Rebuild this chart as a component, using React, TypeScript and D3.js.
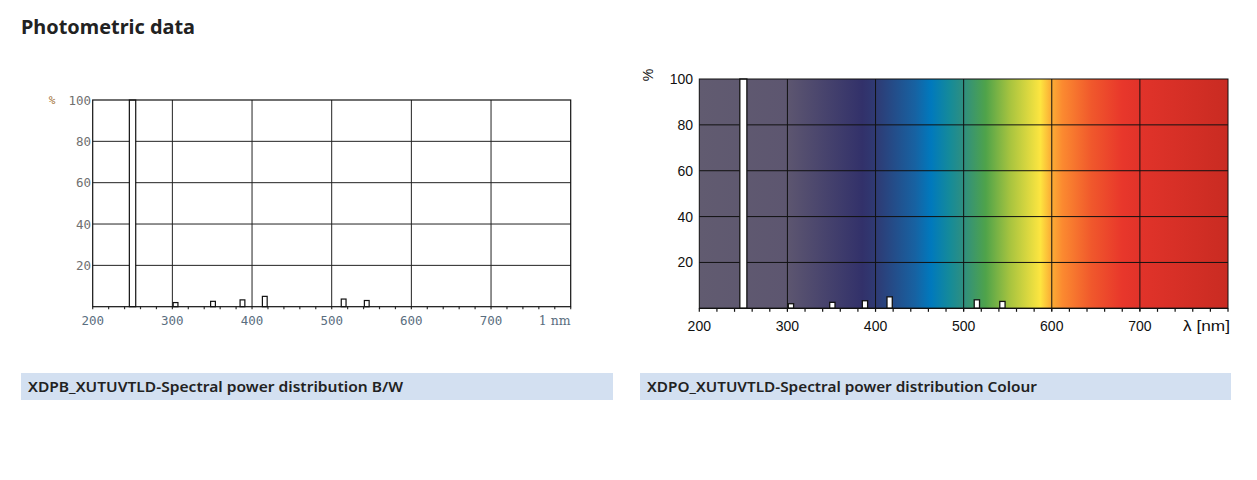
import React from "react";
import * as d3 from "d3";

// ---- data ----
const wavelengthTicks = [200, 300, 400, 500, 600, 700];
const minorTicks = d3.range(200, 801, 20);
const percentTicks = [20, 40, 60, 80, 100];
// spectral lines: start nm, end nm, relative power %
const lineStart = [246, 301, 348, 385, 413, 512, 541];
const lineEnd = [254, 307, 354, 391, 419, 518, 547];
const lineValue = [100, 2, 2.6, 3.3, 5, 3.7, 3];
// colour background stops (nm, colour)
const stopNm = [200, 300, 385, 400, 445, 463, 485, 500, 525, 553, 587, 598, 612, 645, 680, 700, 800];
const stopColor = ["#615b70", "#5d5670", "#32316a", "#2f3a73", "#1762a2", "#0079bd", "#168b98", "#2f8f80", "#4fa34a", "#a8c43f", "#fde540", "#fbb236", "#fb8a30", "#f0582c", "#e8372b", "#e1332a", "#c92b22"];

const lines = lineStart.map((s, i) => ({ s, e: lineEnd[i], v: lineValue[i] }));

export default function App() {
  const xB = d3.scaleLinear().domain([200, 800]).range([92.7, 570.7]);
  const yB = d3.scaleLinear().domain([0, 100]).range([306.7, 100]);
  const xC = d3.scaleLinear().domain([200, 800]).range([699.3, 1228]);
  const yC = d3.scaleLinear().domain([0, 100]).range([308.3, 79]);
  const mono = "'DejaVu Sans Mono', monospace";
  const sans = "'Liberation Sans', Arial, sans-serif";
  const bold = "'Noto Sans', 'Open Sans', sans-serif";

  return (
    <svg width={1257} height={480} style={{ position: "absolute", left: 0, top: 0, background: "#fff" }}>
      <defs>
        <linearGradient id="spec" gradientUnits="userSpaceOnUse" x1={xC(200)} x2={xC(800)} y1={0} y2={0}>
          {stopNm.map((n, i) => (
            <stop key={i} offset={(n - 200) / 600} stopColor={stopColor[i]} />
          ))}
        </linearGradient>
      </defs>

      <text x={21} y={34} fontFamily={bold} fontWeight={700} fontSize={20} fill="#222" textLength={174} lengthAdjust="spacingAndGlyphs">Photometric data</text>

      {/* ---- B/W chart ---- */}
      <g>
        {percentTicks.slice(0, 4).map((t) => (
          <line key={t} x1={xB(200)} x2={xB(800)} y1={yB(t)} y2={yB(t)} stroke="#222" strokeWidth={1} />
        ))}
        {wavelengthTicks.slice(1).map((t) => (
          <line key={t} x1={xB(t)} x2={xB(t)} y1={yB(0)} y2={yB(100)} stroke="#222" strokeWidth={1} />
        ))}
        {minorTicks.map((t) => (
          <line key={t} x1={xB(t)} x2={xB(t)} y1={yB(0)} y2={yB(0) + 2.5} stroke="#333" strokeWidth={1.2} />
        ))}
        {lines.map((l, i) => (
          <rect key={i} x={xB(l.s)} y={yB(l.v)} width={xB(l.e) - xB(l.s)} height={yB(0) - yB(l.v)} fill="#fff" stroke="#111" strokeWidth={1.2} />
        ))}
        <rect x={xB(200)} y={yB(100)} width={xB(800) - xB(200)} height={yB(0) - yB(100)} fill="none" stroke="#111" strokeWidth={1.2} />
        {percentTicks.map((t) => (
          <text key={t} x={91} y={yB(t) + 4.5} textAnchor="end" fontFamily={mono} fontSize={12.5} fill="#707070">{t}</text>
        ))}
        <text x={52} y={yB(100) + 4} textAnchor="middle" fontFamily={mono} fontSize={11} fill="#a07030">%</text>
        {wavelengthTicks.map((t) => (
          <text key={t} x={xB(t)} y={325} textAnchor="middle" fontFamily={mono} fontSize={12.5} fill="#5a6e80">{t}</text>
        ))}
        <text x={xB(800)} y={325} textAnchor="end" fontFamily="'DejaVu Serif', serif" fontSize={12.5} fill="#5a6e80">1 nm</text>
      </g>

      {/* ---- Colour chart ---- */}
      <g>
        <rect x={xC(200)} y={yC(100)} width={xC(800) - xC(200)} height={yC(0) - yC(100)} fill="url(#spec)" />
        {percentTicks.slice(0, 4).map((t) => (
          <line key={t} x1={xC(200)} x2={xC(800)} y1={yC(t)} y2={yC(t)} stroke="#111" strokeWidth={1} />
        ))}
        {wavelengthTicks.slice(1).map((t) => (
          <line key={t} x1={xC(t)} x2={xC(t)} y1={yC(0) + 3} y2={yC(100)} stroke="#111" strokeWidth={1} />
        ))}
        {minorTicks.map((t) => (
          <line key={t} x1={xC(t)} x2={xC(t)} y1={yC(0)} y2={yC(0) + 3.5} stroke="#111" strokeWidth={1.2} />
        ))}
        {lines.map((l, i) => (
          <rect key={i} x={xC(l.s)} y={yC(l.v)} width={xC(l.e) - xC(l.s)} height={yC(0) - yC(l.v)} fill="#fff" stroke="#111" strokeWidth={1.3} />
        ))}
        <rect x={xC(200)} y={yC(100)} width={xC(800) - xC(200)} height={yC(0) - yC(100)} fill="none" stroke="#111" strokeWidth={1} />
        <line x1={xC(200)} x2={xC(800)} y1={yC(0)} y2={yC(0)} stroke="#111" strokeWidth={1.2} />
        {percentTicks.map((t) => (
          <text key={t} x={693} y={yC(t) + 5} textAnchor="end" fontFamily={sans} fontSize={14} fill="#111">{t}</text>
        ))}
        <text transform="translate(653,75) rotate(-90)" textAnchor="middle" fontFamily={sans} fontSize={14} fill="#111">%</text>
        {wavelengthTicks.map((t) => (
          <text key={t} x={xC(t)} y={331} textAnchor="middle" fontFamily={sans} fontSize={14} fill="#111">{t}</text>
        ))}
        <text x={1230} y={331} textAnchor="end" fontFamily={sans} fontSize={14} fill="#111" textLength={47} lengthAdjust="spacingAndGlyphs">λ [nm]</text>
      </g>

      {/* ---- captions ---- */}
      <rect x={21} y={373} width={592} height={27} fill="#d3e0f1" />
      <text x={28} y={391.5} fontFamily={bold} fontWeight={600} fontSize={14.5} fill="#222" textLength={375} lengthAdjust="spacingAndGlyphs">XDPB_XUTUVTLD-Spectral power distribution B/W</text>
      <rect x={640} y={373} width={591} height={27} fill="#d3e0f1" />
      <text x={647} y={391.5} fontFamily={bold} fontWeight={600} fontSize={14.5} fill="#222" textLength={390} lengthAdjust="spacingAndGlyphs">XDPO_XUTUVTLD-Spectral power distribution Colour</text>
    </svg>
  );
}
